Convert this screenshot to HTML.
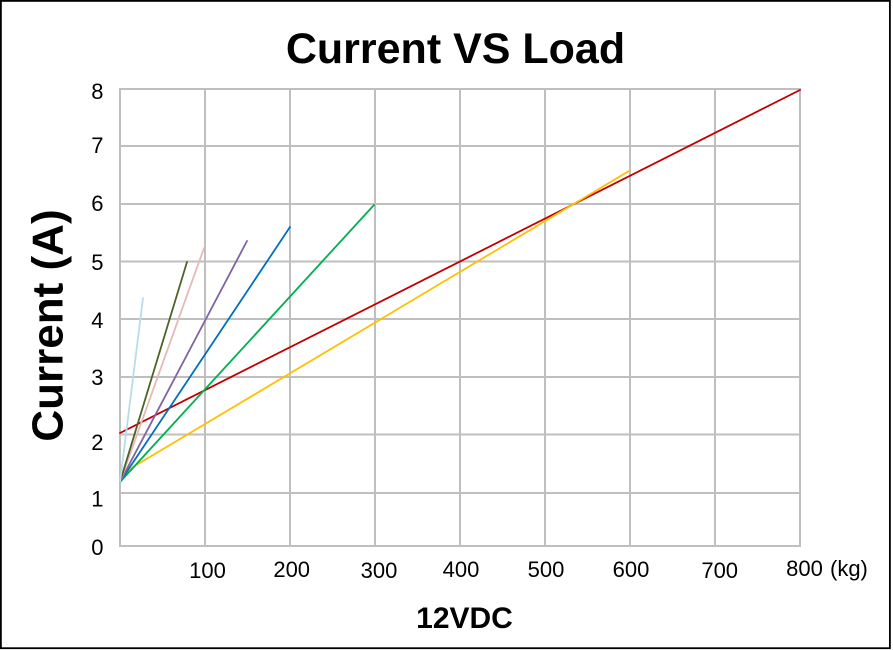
<!DOCTYPE html>
<html>
<head>
<meta charset="utf-8">
<style>
html,body{margin:0;padding:0;background:#fff;}
svg{display:block;}
text{font-family:"Liberation Sans",Arial,sans-serif;fill:#000;}
</style>
</head>
<body>
<svg width="893" height="650" viewBox="0 0 893 650" xmlns="http://www.w3.org/2000/svg">
<rect x="0" y="0" width="893" height="650" fill="#fff"/>
<rect x="0.9" y="0.9" width="889" height="647.3" fill="none" stroke="#000" stroke-width="1.8"/>

<!-- title -->
<text x="455.5" y="63" font-size="43" font-weight="bold" text-anchor="middle">Current VS Load</text>

<!-- grid -->
<g stroke="#bfbfbf" stroke-width="2" fill="none">
<line x1="120" y1="89" x2="120" y2="546"/>
<line x1="205" y1="89" x2="205" y2="546"/>
<line x1="290" y1="89" x2="290" y2="546"/>
<line x1="375" y1="89" x2="375" y2="546"/>
<line x1="460" y1="89" x2="460" y2="546"/>
<line x1="545" y1="89" x2="545" y2="546"/>
<line x1="630" y1="89" x2="630" y2="546"/>
<line x1="715" y1="89" x2="715" y2="546"/>
<line x1="800" y1="89" x2="800" y2="546"/>
<line x1="119" y1="89" x2="801" y2="89"/>
<line x1="119" y1="146" x2="801" y2="146"/>
<line x1="119" y1="204" x2="801" y2="204"/>
<line x1="119" y1="261.5" x2="801" y2="261.5"/>
<line x1="119" y1="319" x2="801" y2="319"/>
<line x1="119" y1="377" x2="801" y2="377"/>
<line x1="119" y1="434.5" x2="801" y2="434.5"/>
<line x1="119" y1="493" x2="801" y2="493"/>
<line x1="119" y1="546" x2="801" y2="546"/>
</g>

<!-- series -->
<g fill="none" stroke-width="1.8" stroke-linecap="round" stroke-linejoin="round">
<polyline points="120,433 800,90" stroke="#c00000"/>
<polyline points="120,482 133,467 629,171" stroke="#ffc000"/>
<polyline points="120,482 374,205" stroke="#00b050"/>
<polyline points="120,482 290,227" stroke="#0070c0"/>
<polyline points="120,482 247,241" stroke="#8064a2"/>
<polyline points="120,482 204,248" stroke="#e6b9b8"/>
<polyline points="120,482 187,262" stroke="#4f6228"/>
<polyline points="120,482 143,298" stroke="#b7dde8"/>
</g>

<!-- y tick labels -->
<g font-size="22" text-anchor="end">
<text x="103.5" y="99">8</text>
<text x="103.5" y="153">7</text>
<text x="103.5" y="211">6</text>
<text x="103.5" y="270">5</text>
<text x="103.5" y="328">4</text>
<text x="103.5" y="385">3</text>
<text x="103.5" y="450">2</text>
<text x="103.5" y="506.5">1</text>
<text x="103.5" y="555">0</text>
</g>

<!-- x tick labels -->
<g font-size="22" text-anchor="middle">
<text x="207.5" y="578">100</text>
<text x="291.7" y="577">200</text>
<text x="379" y="578">300</text>
<text x="461" y="577">400</text>
<text x="546" y="577">500</text>
<text x="631" y="577">600</text>
<text x="719.7" y="578">700</text>
<text x="804.5" y="576">800</text>
</g>
<text x="830" y="576" font-size="22">(kg)</text>

<!-- axis titles -->
<text transform="translate(62.5,325.5) rotate(-90)" font-size="44" font-weight="bold" text-anchor="middle">Current (A)</text>
<text x="464.5" y="628" font-size="30" font-weight="bold" text-anchor="middle">12VDC</text>
</svg>
</body>
</html>
